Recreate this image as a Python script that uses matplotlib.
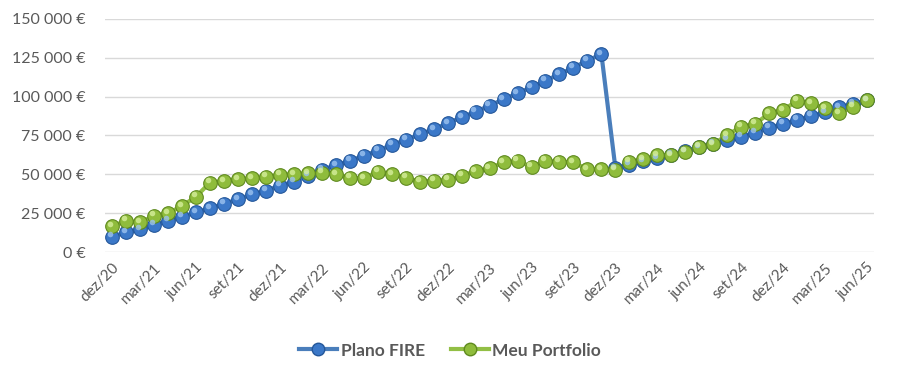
import matplotlib
matplotlib.use("Agg")
import matplotlib.pyplot as plt
import matplotlib.transforms as mtransforms
from matplotlib.lines import Line2D
from matplotlib.ticker import FuncFormatter, MultipleLocator

# monthly points dez/20 .. jun/25
months = ["dez", "jan", "fev", "mar", "abr", "mai", "jun", "jul", "ago", "set", "out", "nov"]
month_labels = []
for i in range(55):
    m = months[i % 12]
    yr = 20 + (i + 11) // 12
    month_labels.append(f"{m}/{yr}")

plano_fire = [9900, 12700, 14600, 17400, 20000, 22700, 25500, 28100, 31100, 33900,
              37100, 39500, 42700, 45300, 49000, 52800, 56000, 58600, 62000, 65200,
              68900, 72100, 75800, 79000, 82900, 86700, 90300, 94200, 98300, 102200,
              106000, 110300, 114400, 118700, 123200, 127300,
              54000, 56200, 58300, 60500, 62700, 65000, 67300, 69700, 72100, 74300,
              76800, 80000, 82400, 85000, 87600, 89900, 93200, 95300, 97800]

meu_portfolio = [16700, 20000, 19100, 23200, 24900, 29600, 35600, 44600, 45700, 47000,
                 47400, 48500, 49600, 50200, 50700, 51100, 50000, 47800, 47400, 51700,
                 50200, 47800, 45300, 45900, 46400, 49100, 52100, 53900, 57700, 58600,
                 54900, 58600, 58200, 57700, 53200, 53400,
                 52800, 58100, 59700, 62400, 62400, 64600, 67800, 69500, 75300, 80700,
                 82400, 89300, 91400, 97400, 95700, 92500, 89300, 93500, 97800]

series = [
    ("Plano FIRE", plano_fire, "#4a7ebb", "#3b78c8", "#24579a", "#9cc3f0"),
    ("Meu Portfolio", meu_portfolio, "#92bf45", "#8fbc3c", "#5f8a1f", "#d6ef9c"),
]

plt.rcParams["font.family"] = ["Lato", "DejaVu Sans"]
text_color = "#595959"

fig = plt.figure(figsize=(9, 3.79), dpi=100)
ax = fig.add_axes([0.1167, 0.335, 0.8545, 0.615])

x = list(range(len(month_labels)))
handles = []
for name, vals, lc, fc, ec, hc in series:
    ax.plot(x, vals, color=lc, linewidth=3, solid_capstyle="round", zorder=3)
    ax.plot(x, vals, linestyle="none", marker="o", markersize=9.8,
            markerfacecolor=fc, markeredgecolor=ec, markeredgewidth=0.8, zorder=4)
    # small highlight to look like the shiny Excel spheres
    hl = mtransforms.offset_copy(ax.transData, fig=fig, x=-1.5, y=1.8, units="points")
    ax.plot(x, vals, linestyle="none", marker="o", markersize=4,
            markerfacecolor=hc, markeredgecolor="none", alpha=0.8,
            transform=hl, zorder=5)
    handles.append(Line2D([], [], color=lc, linewidth=3, marker="o", markersize=9,
                          markerfacecolor=fc, markeredgecolor=ec, label=name))

ax.set_xlim(-0.5, len(x) - 0.5)
ax.set_ylim(0, 150000)
ax.yaxis.set_major_locator(MultipleLocator(25000))
ax.yaxis.set_major_formatter(FuncFormatter(
    lambda v, p: f"{int(v):,}".replace(",", " ") + " €"))
ax.grid(axis="y", color="#d9d9d9", linewidth=1)
ax.set_axisbelow(True)
for s in ax.spines.values():
    s.set_visible(False)

ax.set_xticks(x[::3])
ax.set_xticklabels(month_labels[::3], rotation=45, ha="right", rotation_mode="anchor",
                   fontsize=11, color=text_color)
ax.tick_params(axis="both", length=0, pad=6)
ax.tick_params(axis="y", labelsize=11.5, labelcolor=text_color, pad=14)

fig.legend(handles=handles, loc="center", bbox_to_anchor=(0.5, 0.075), ncol=2,
           frameon=False, handlelength=2.2, handletextpad=0.2, columnspacing=1.5,
           prop={"size": 12.5, "weight": "bold"}, labelcolor=text_color)

fig.savefig("out.png", dpi=100)
